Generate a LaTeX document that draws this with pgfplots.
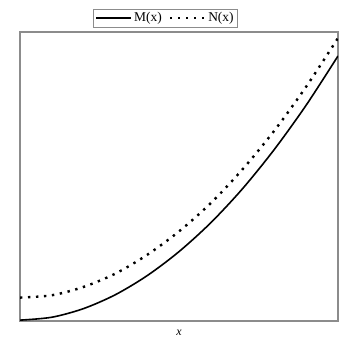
\documentclass[border=0pt]{standalone}
\usepackage{pgfplots}
\pgfplotsset{compat=1.18}
\usepackage{fontspec}
\setmainfont{Liberation Serif}
\begin{document}
\begin{tikzpicture}
\useasboundingbox (-20bp,-24bp) rectangle (325bp,321bp);
\begin{axis}[
  at={(0,0)}, anchor=south west,
  scale only axis, width=318bp, height=289bp,
  xmin=0, xmax=1, ymin=0, ymax=1,
  xtick=\empty, ytick=\empty,
  axis line style={draw=gray!90, line width=1.2bp},
  xlabel={\textit{x}},
  xlabel style={at={(axis description cs:0.5,0)}, anchor=north, yshift=-5bp, font=\fontsize{12}{14}\selectfont},
  legend columns=2,
  legend style={at={(0.458,1)}, anchor=south, yshift=5bp, draw=gray!90,
    font=\fontsize{13.5}{15}\selectfont, inner xsep=2bp, inner ysep=1bp,
    nodes={inner xsep=2bp, inner ysep=2.5bp},
    /tikz/every even column/.append style={column sep=5bp}},
  legend image code/.code={\draw[#1] (0bp,0bp) -- (35bp,0bp);},
]
\addplot[black, line width=1.6bp, smooth] coordinates {
(0,0.003) (0.1,0.013) (0.2,0.043) (0.3,0.091) (0.4,0.157) (0.5,0.240) (0.6,0.340) (0.7,0.458) (0.8,0.594) (0.9,0.747) (1.0,0.917)
};
\addlegendentry{M(x)}
\addplot[black, line width=2.4bp, dash pattern=on 2.4bp off 5.6bp, smooth] coordinates {
(0,0.081) (0.1,0.089) (0.2,0.118) (0.3,0.164) (0.4,0.229) (0.5,0.310) (0.6,0.408) (0.7,0.525) (0.8,0.659) (0.9,0.811) (1.0,0.979)
};
\addlegendentry{N(x)}
\end{axis}
\end{tikzpicture}
\end{document}
